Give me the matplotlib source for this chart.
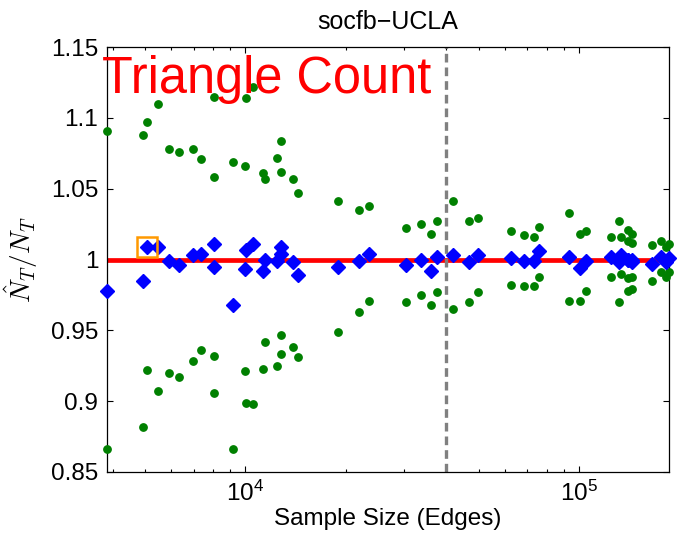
import numpy as np
import matplotlib
matplotlib.use("Agg")
import matplotlib.pyplot as plt
from matplotlib.ticker import LogLocator, FixedLocator, NullFormatter

plt.rcParams['font.family'] = ['Liberation Sans', 'DejaVu Sans']
plt.rcParams['mathtext.fontset'] = 'cm'
plt.rcParams['mathtext.default'] = 'regular'

# Werte
sample_size = [3840, 4920, 5074, 5474, 5905, 6318, 6975, 7350, 8062, 8062,
               9175, 9980, 10035, 10515, 11296, 11422, 12405, 12815, 12815, 13944,
               14403, 18973, 21974, 23442, 30375, 33688, 36082, 37447, 41898, 46881,
               49680, 62604, 68470, 73177, 75893, 93165, 100700, 105220, 125000, 131450,
               133250, 140530, 140530, 144260, 144260, 165820, 175560, 181720, 185900]
estimate = [0.978, 0.985, 1.009, 1.009, 0.999, 0.996, 1.003, 1.004, 1.011, 0.995,
            0.968, 0.993, 1.007, 1.011, 0.992, 1.000, 0.999, 1.009, 1.004, 0.998,
            0.989, 0.995, 0.999, 1.004, 0.996, 1.000, 0.992, 1.002, 1.003, 0.998,
            1.003, 1.001, 0.999, 0.999, 1.006, 1.002, 0.994, 0.999, 1.002, 0.998,
            1.003, 1.000, 1.000, 0.998, 1.000, 0.997, 1.002, 0.998, 1.001]
upper = [1.091, 1.088, 1.097, 1.110, 1.078, 1.076, 1.078, 1.071, 1.115, 1.058,
         1.069, 1.066, 1.114, 1.122, 1.061, 1.057, 1.072, 1.084, 1.062, 1.057,
         1.047, 1.041, 1.035, 1.038, 1.022, 1.025, 1.018, 1.027, 1.041, 1.027,
         1.029, 1.020, 1.017, 1.016, 1.023, 1.033, 1.018, 1.020, 1.016, 1.027,
         1.016, 1.021, 1.013, 1.018, 1.012, 1.010, 1.013, 1.009, 1.011]
lower = [0.866, 0.882, 0.922, 0.907, 0.920, 0.917, 0.928, 0.936, 0.906, 0.932,
         0.866, 0.921, 0.899, 0.898, 0.923, 0.942, 0.925, 0.933, 0.947, 0.938,
         0.931, 0.949, 0.963, 0.971, 0.970, 0.975, 0.968, 0.977, 0.965, 0.970,
         0.977, 0.982, 0.981, 0.981, 0.988, 0.971, 0.971, 0.978, 0.988, 0.970,
         0.990, 0.978, 0.987, 0.979, 0.988, 0.985, 0.991, 0.988, 0.991]
highlight = 2          # Punkt mit orangem Kasten
cutoff = 40000         # gestrichelte Linie
y_ticks = [0.85, 0.9, 0.95, 1.0, 1.05, 1.1, 1.15]
y_ticklabels = ['0.85', '0.9', '0.95', '1', '1.05', '1.1', '1.15']

fig = plt.figure(figsize=(6.79, 5.39), dpi=100)
ax = fig.add_axes([0.157, 0.1245, 0.828, 0.788])

ax.axhline(1.0, color='#ff0000', lw=3.4, zorder=2)
ax.axvline(cutoff, color='#808080', lw=2.4, ls=(0, (2.6, 1.5)), zorder=2)

ax.plot(sample_size, upper, 'o', color='#008000', ms=5.3, mec='#008000', ls='none', clip_on=False, zorder=3)
ax.plot(sample_size, lower, 'o', color='#008000', ms=5.3, mec='#008000', ls='none', clip_on=False, zorder=3)
ax.plot(sample_size, estimate, 'D', color='#0000ff', ms=7, mec='#0000ff', ls='none', clip_on=False, zorder=4)
ax.plot(sample_size[highlight], estimate[highlight], 's', mfc='none', mec='#ff9900', mew=1.8,
        ms=14.5, clip_on=False, zorder=5)

ax.set_xscale('log')
ax.set_xlim(sample_size[0], sample_size[-1])
ax.set_ylim(0.85, 1.15)
ax.yaxis.set_major_locator(FixedLocator(y_ticks))
ax.set_yticklabels(y_ticklabels)
ax.xaxis.set_major_locator(LogLocator(base=10))
ax.xaxis.set_minor_locator(LogLocator(base=10, subs=np.arange(2, 10)))
ax.xaxis.set_minor_formatter(NullFormatter())

ax.tick_params(which='both', direction='in', top=True, right=True, labelsize=17.5, pad=6)
ax.tick_params(which='major', length=4.2, width=0.8)
ax.tick_params(which='minor', length=2.4, width=0.8)
for s in ax.spines.values():
    s.set_linewidth(0.9)

ax.set_title('socfb\u2212UCLA', fontsize=18, pad=13)
ax.set_xlabel('Sample Size (Edges)', fontsize=17.5, labelpad=2)
ax.set_ylabel(r'$\mathit{\hat{N}_T/N_T}$', fontsize=19.5, labelpad=8)

ax.text(-0.009, 0.8917, 'Triangle Count', transform=ax.transAxes, color='#ff0000',
        fontsize=36.4, ha='left', va='baseline', zorder=6)

fig.savefig('out.png', dpi=100)
